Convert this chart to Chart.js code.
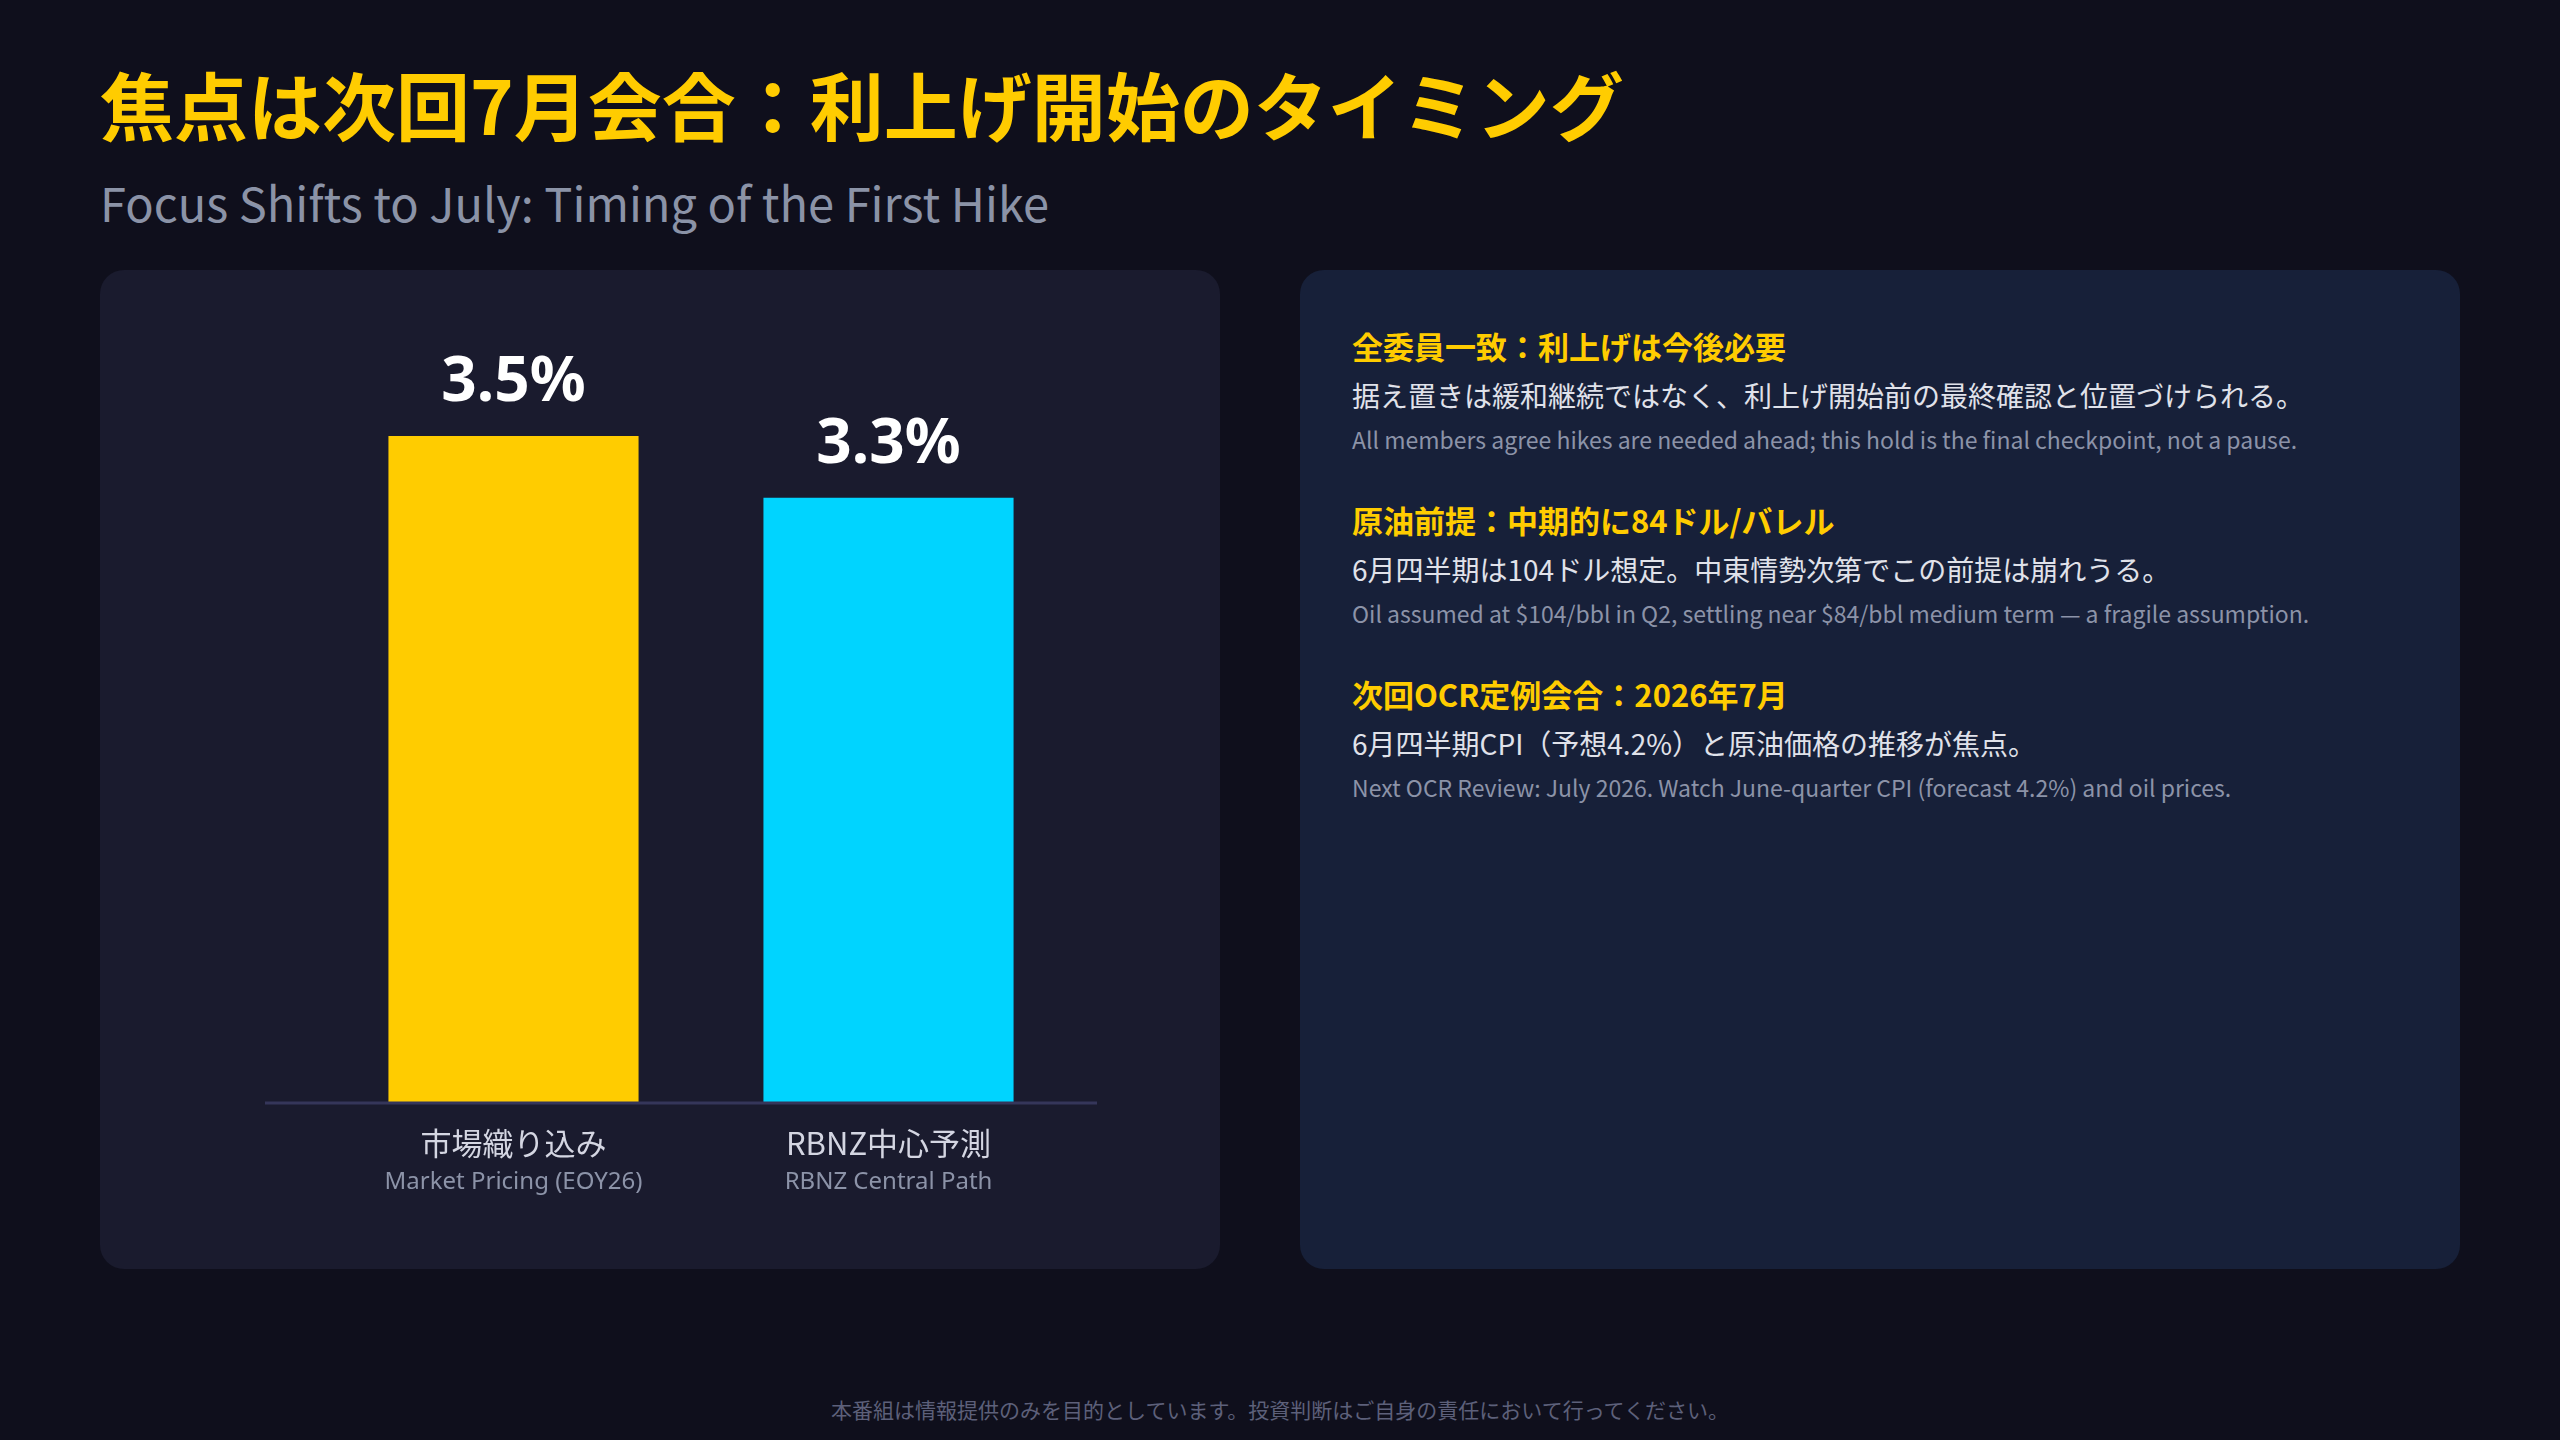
<!DOCTYPE html>
<html><head><meta charset="utf-8">
<script src="https://cdn.jsdelivr.net/npm/chart.js@4"></script>
<style>
body{margin:0;width:2560px;height:1440px;background:#0f0f1c;font-family:"Noto Sans CJK JP","Noto Sans",sans-serif;position:relative;overflow:hidden}
.t{position:absolute;left:100px;top:66px;font-size:74px;font-weight:700;color:#ffcc00;margin:0;line-height:1}
.s{position:absolute;left:100px;top:178px;font-size:47px;color:#8b93a7;line-height:1}
.card{position:absolute;top:270px;height:999px;border-radius:24px}
#l{left:100px;width:1120px;background:#1a1b2e}
#r{left:1300px;width:1160px;background:#172039}
#cv{position:absolute;left:265px;top:281px}
.sec{position:absolute;left:1352px}
.h{font-size:31px;font-weight:700;color:#ffcc00;line-height:1}
.b{font-size:28px;color:#e0e2ea;margin-top:20px;line-height:1}
.e{font-size:23px;color:#8c93a8;margin-top:19px;line-height:1}
.f{position:absolute;left:0;width:2560px;top:1394px;text-align:center;font-size:21px;color:#5d607a}
</style></head><body>
<div class="t">焦点は次回7月会合：利上げ開始のタイミング</div>
<div class="s">Focus Shifts to July: Timing of the First Hike</div>
<div class="card" id="l"></div>
<div class="card" id="r"></div>
<div id="wrap"><canvas id="cv" width="832" height="960"></canvas></div>
<div class="sec" style="top:330px"><div class="h">全委員一致：利上げは今後必要</div><div class="b">据え置きは緩和継続ではなく、利上げ開始前の最終確認と位置づけられる。</div><div class="e">All members agree hikes are needed ahead; this hold is the final checkpoint, not a pause.</div></div>
<div class="sec" style="top:504px"><div class="h">原油前提：中期的に84ドル/バレル</div><div class="b">6月四半期は104ドル想定。中東情勢次第でこの前提は崩れうる。</div><div class="e">Oil assumed at $104/bbl in Q2, settling near $84/bbl medium term — a fragile assumption.</div></div>
<div class="sec" style="top:678px"><div class="h">次回OCR定例会合：2026年7月</div><div class="b">6月四半期CPI（予想4.2%）と原油価格の推移が焦点。</div><div class="e">Next OCR Review: July 2026. Watch June-quarter CPI (forecast 4.2%) and oil prices.</div></div>
<div class="f">本番組は情報提供のみを目的としています。投資判断はご自身の責任において行ってください。</div>
<script>
const labelsJa = ['市場織り込み', 'RBNZ中心予測'];
const labelsEn = ['Market Pricing (EOY26)', 'RBNZ Central Path'];
const values = [3.5, 3.3];
const colors = ['#ffcc00', '#00d4ff'];

const decor = {
  id: 'decor',
  afterDatasetsDraw(chart) {
    const { ctx, chartArea, scales: { x } } = chart;
    ctx.save();
    ctx.strokeStyle = '#35365a';
    ctx.lineWidth = 3;
    ctx.beginPath();
    ctx.moveTo(0, chartArea.bottom + 1);
    ctx.lineTo(chart.width, chartArea.bottom + 1);
    ctx.stroke();
    ctx.textAlign = 'center';
    ctx.textBaseline = 'middle';
    const meta = chart.getDatasetMeta(0);
    values.forEach((v, i) => {
      const px = x.getPixelForValue(i);
      ctx.fillStyle = '#ffffff';
      ctx.font = 'bold 62px "Noto Sans", sans-serif';
      ctx.fillText(v.toFixed(1) + '%', px, meta.data[i].y - 53);
      ctx.fillStyle = '#d4d6e2';
      ctx.font = '31px "Noto Sans CJK JP", sans-serif';
      ctx.fillText(labelsJa[i], px, chartArea.bottom + 41);
      ctx.fillStyle = '#8c93a8';
      ctx.font = '24px "Noto Sans", sans-serif';
      ctx.fillText(labelsEn[i], px, chartArea.bottom + 80);
    });
    ctx.restore();
  }
};

new Chart(document.getElementById('cv'), {
  type: 'bar',
  data: {
    labels: labelsJa,
    datasets: [{ data: values, backgroundColor: colors, borderWidth: 0, barPercentage: 0.667, categoryPercentage: 1 }]
  },
  options: {
    responsive: false,
    animation: false,
    layout: { padding: { left: 61, right: 21, top: 0, bottom: 139 } },
    plugins: { legend: { display: false }, tooltip: { enabled: false } },
    scales: {
      x: { display: false },
      y: { display: false, min: 1.35, max: 4.0 }
    }
  },
  plugins: [decor]
});
</script>
</body></html>
